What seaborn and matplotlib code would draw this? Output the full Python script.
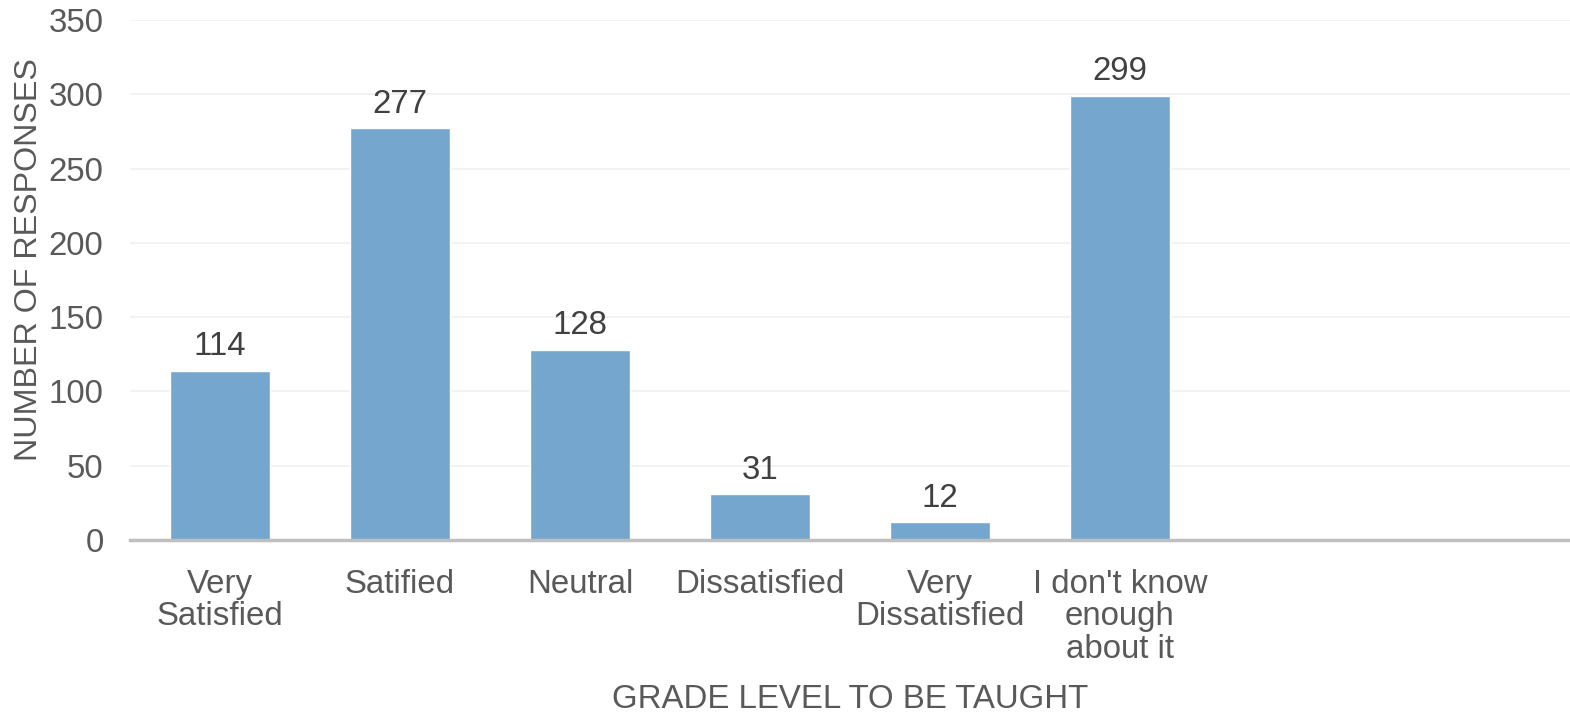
import matplotlib
matplotlib.use("Agg")
import matplotlib.pyplot as plt
import seaborn as sns
import pandas as pd

# Survey responses
categories = ["Very\nSatisfied", "Satified", "Neutral", "Dissatisfied",
              "Very\nDissatisfied", "I don't know\nenough\nabout it"]
responses = [114, 277, 128, 31, 12, 299]

x_title = "GRADE LEVEL TO BE TAUGHT"
y_title = "NUMBER OF RESPONSES"

sns.set_theme(style="white")
plt.rcParams["font.family"] = ["Liberation Sans", "DejaVu Sans"]

bar_color = "#74A6CE"
text_gray = "#595959"
label_dark = "#404040"
fs = 23.8

df = pd.DataFrame({"category": categories, "responses": responses})

fig = plt.figure(figsize=(15.70, 7.13), dpi=100)
ax = fig.add_axes([130 / 1570, 1 - 540 / 713, 1 - 130 / 1570, 520 / 713])

sns.barplot(data=df, x="category", y="responses", color=bar_color,
            saturation=1, width=0.555, ax=ax, zorder=3)

ax.set_xlim(-0.5, 7.5)
ax.set_ylim(0, 350)
ax.set_yticks(range(0, 351, 50))
ax.grid(axis="y", color="#F0F0F0", linewidth=1.2, zorder=0)
ax.grid(axis="x", visible=False)

for side in ["left", "right", "top"]:
    ax.spines[side].set_visible(False)
ax.spines["bottom"].set_color("#BFBFBF")
ax.spines["bottom"].set_linewidth(2.5)
ax.spines["bottom"].set_zorder(4)

ax.tick_params(axis="both", length=0, labelsize=fs, labelcolor=text_gray)
ax.tick_params(axis="x", pad=21)
ax.tick_params(axis="y", pad=19)
for lbl in ax.get_xticklabels():
    lbl.set_linespacing(1.05)

for container in ax.containers:
    ax.bar_label(container, labels=[str(v) for v in responses], padding=6,
                 fontsize=fs, color=label_dark)

ax.set_xlabel(x_title, fontsize=fs, color=text_gray, labelpad=14)
ax.set_ylabel(y_title, fontsize=23.2, color=text_gray)
ax.yaxis.set_label_coords(-86 / 1440, 280 / 520)

fig.savefig("out.png", dpi=100)
